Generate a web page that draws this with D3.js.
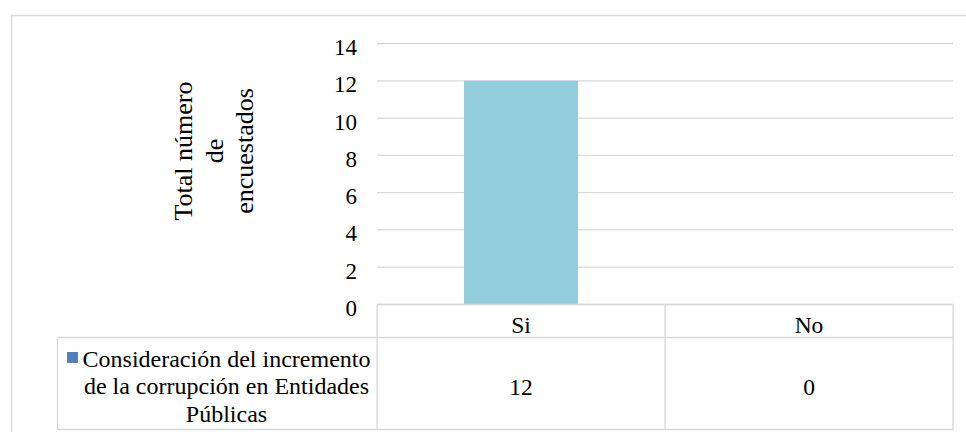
<!DOCTYPE html>
<html><head><meta charset="utf-8">
<script src="https://cdn.jsdelivr.net/npm/d3@7/dist/d3.min.js"></script>
<style>body{margin:0;background:#fff}svg{display:block}</style>
</head><body>
<script>
const categories = ["Si", "No"];
const values = [12, 0];
const seriesName = ["Consideración del incremento", "de la corrupción en Entidades", "Públicas"];
const yTicks = [0, 2, 4, 6, 8, 10, 12, 14];
const yTitle = ["Total número", "de", "encuestados"];

(function(){
const W = 966, H = 432;
const FF = '"Liberation Serif"';
const svg = d3.select("body").append("svg").attr("width", W).attr("height", H);
const grid = "#d9d9d9";
const fs = 23.5;

// outer frame
svg.append("path").attr("d", `M11.5,${H} V15.5 H${W}`).attr("fill","none").attr("stroke",grid).attr("stroke-width",1.3);

const pL = 377, pR = 953, pT = 43.5, pB = 304.5;
const x = d3.scaleBand().domain(categories).range([pL, pR]).paddingInner(0).paddingOuter(0);
const y = d3.scaleLinear().domain([0, 14]).range([pB, pT]);

// gridlines
svg.append("g").selectAll("line").data(yTicks).join("line")
  .attr("x1", pL).attr("x2", pR).attr("y1", d => y(d)).attr("y2", d => y(d))
  .attr("stroke", grid).attr("stroke-width", 1.3);

// y tick labels via axis
const ax = svg.append("g").attr("transform", `translate(${pL - 20},0)`)
  .call(d3.axisLeft(y).tickValues(yTicks).tickSize(0).tickPadding(0));
ax.attr("font-family", null).attr("font-size", null);
ax.select(".domain").remove();
ax.selectAll("text").style("font-family", FF).attr("font-size", 23).attr("fill","#000").attr("dy", null).attr("y", 11);

// bars
const bw = 114;
svg.append("g").selectAll("rect").data(categories).join("rect")
  .attr("x", d => x(d) + x.bandwidth()/2 - bw/2).attr("width", bw)
  .attr("y", (d,i) => y(values[i])).attr("height", (d,i) => y(0) - y(values[i]))
  .attr("fill", "#92cddc");

// y title
const yt = svg.append("text").attr("transform", "translate(222.5,151) rotate(-90)")
  .attr("text-anchor","middle").attr("font-size", 26).style("font-family", FF).attr("fill","#000");
yTitle.forEach((t,i) => yt.append("tspan").attr("x",0).attr("y", (i-1)*30.5).text(t));

// data table
const tTop = 304.5, hBot = 337.5, tBot = 429.5, lLeft = 57.5;
const tg = svg.append("g").attr("fill","none").attr("stroke",grid).attr("stroke-width",1.3);
tg.append("line").attr("x1",pL).attr("x2",pR).attr("y1",tTop).attr("y2",tTop);
tg.append("line").attr("x1",lLeft).attr("x2",pR).attr("y1",hBot).attr("y2",hBot);
tg.append("line").attr("x1",lLeft).attr("x2",pR).attr("y1",tBot).attr("y2",tBot);
tg.append("line").attr("x1",lLeft).attr("x2",lLeft).attr("y1",hBot).attr("y2",tBot);
[pL, x("No"), pR].forEach(v => tg.append("line").attr("x1",v).attr("x2",v).attr("y1",tTop).attr("y2",tBot));

svg.append("g").selectAll("text").data(categories).join("text")
  .attr("x", d => x(d) + x.bandwidth()/2).attr("y", 332.5)
  .attr("text-anchor","middle").attr("font-size", fs).style("font-family", FF).attr("fill","#000").text(d => d);
svg.append("g").selectAll("text").data(values).join("text")
  .attr("x", (d,i) => x(categories[i]) + x.bandwidth()/2).attr("y", 394.5)
  .attr("text-anchor","middle").attr("font-size", fs).style("font-family", FF).attr("fill","#000").text(d => d);

// legend cell
svg.append("rect").attr("x", 67).attr("y", 352).attr("width", 11).attr("height", 11).attr("fill", "#4f81bd");
const lt = svg.append("text").attr("text-anchor","middle").attr("font-size", 24).style("font-family", FF).attr("fill","#000");
seriesName.forEach((t,i) => lt.append("tspan").attr("x", 226.5).attr("y", 366.5 + i*27.7).text(t));
})();
</script>
</body></html>
